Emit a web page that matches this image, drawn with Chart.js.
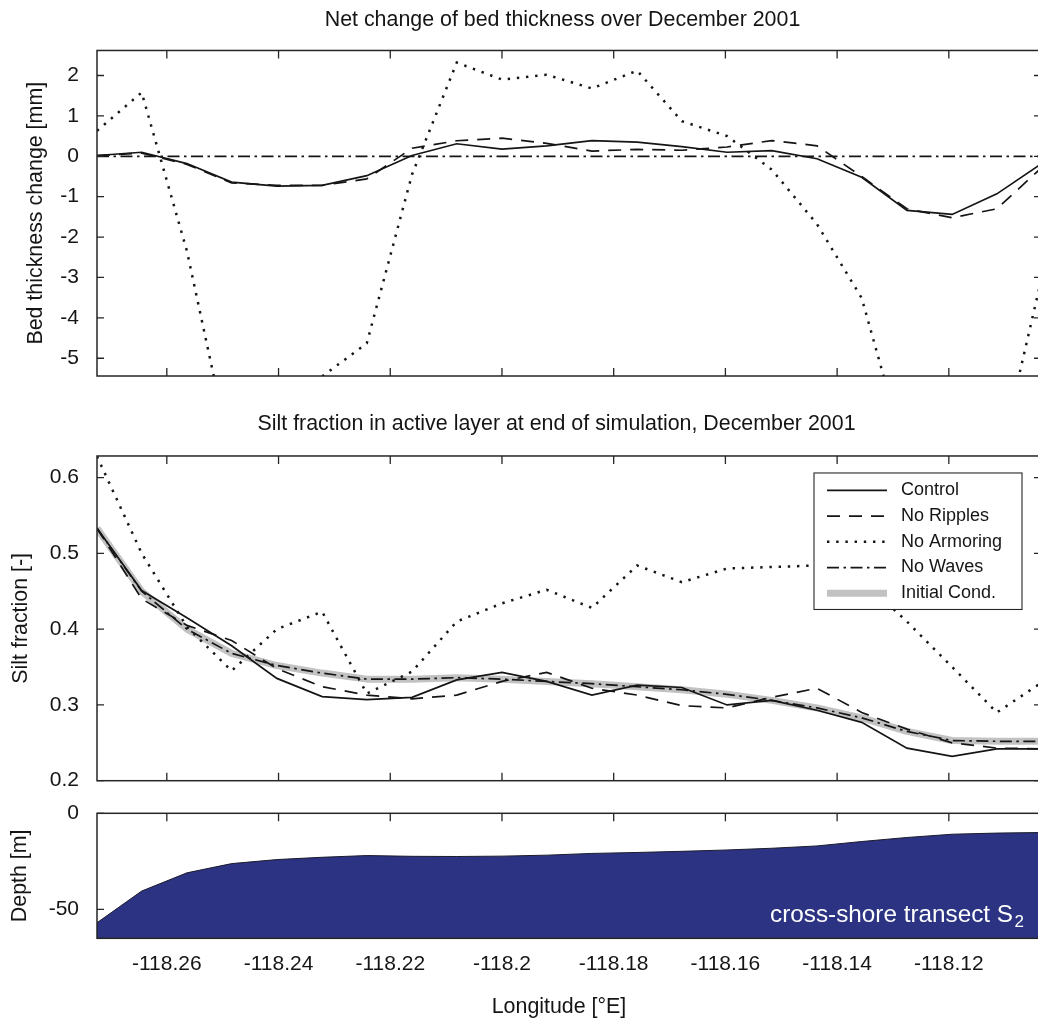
<!DOCTYPE html>
<html>
<head>
<meta charset="utf-8">
<script src="https://cdn.jsdelivr.net/npm/chart.js@4.4.1/dist/chart.umd.min.js"></script>
<style>
  html, body { margin: 0; padding: 0; background: #fff; }
  #figure { position: relative; width: 1038px; height: 1019px; overflow: hidden; background: #fff; }
  #figure canvas { position: absolute; left: 0; }
</style>
</head>
<body>
<div id="figure">
  <canvas id="bedChart" width="1041" height="400" style="top:0px"></canvas>
  <canvas id="siltChart" width="1041" height="400" style="top:400px"></canvas>
  <canvas id="depthChart" width="1041" height="240" style="top:790px"></canvas>
</div>
<script>
// ========== データ ==========
// 経度 (grid points along the transect)
const lon = [-118.2725, -118.2645, -118.2564, -118.2484, -118.2403, -118.2322, -118.2242, -118.2161,
  -118.2081, -118.2000, -118.1920, -118.1839, -118.1758, -118.1678, -118.1597, -118.1517,
  -118.1436, -118.1356, -118.1275, -118.1194, -118.1114, -118.1033];

// bed thickness change [mm]
const bedControl = [0.02, 0.10, -0.18, -0.64, -0.74, -0.72, -0.48, 0.02, 0.31, 0.18, 0.26,
  0.39, 0.35, 0.24, 0.10, 0.14, -0.06, -0.52, -1.34, -1.44, -0.93, -0.17];
const bedNoRipples = [0.02, 0.08, -0.20, -0.66, -0.72, -0.72, -0.56, 0.20, 0.385, 0.45, 0.32,
  0.13, 0.17, 0.15, 0.23, 0.39, 0.26, -0.50, -1.30, -1.52, -1.30, -0.27];
const bedNoArmoring = [0.63, 1.58, -2.35, -7.5, -7.8, -5.45, -4.63, -0.45, 2.32, 1.90, 2.02,
  1.68, 2.12, 0.87, 0.50, -0.33, -1.68, -3.51, -7.5, -9.0, -7.8, -2.96];
const bedNoWaves = [0, 0, 0, 0, 0, 0, 0, 0, 0, 0, 0, 0, 0, 0, 0, 0, 0, 0, 0, 0, 0, 0];

// silt fraction [-]
const siltControl = [0.533, 0.451, 0.415, 0.378, 0.335, 0.311, 0.307, 0.310, 0.333, 0.343, 0.331,
  0.313, 0.326, 0.323, 0.300, 0.306, 0.293, 0.277, 0.243, 0.232, 0.242, 0.242];
const siltNoRipples = [0.533, 0.440, 0.405, 0.385, 0.348, 0.324, 0.313, 0.308, 0.313, 0.331, 0.343,
  0.322, 0.313, 0.299, 0.296, 0.310, 0.322, 0.290, 0.268, 0.250, 0.243, 0.242];
const siltNoArmoring = [0.628, 0.500, 0.403, 0.345, 0.400, 0.423, 0.315, 0.344, 0.410, 0.434, 0.452,
  0.428, 0.484, 0.462, 0.480, 0.482, 0.484, 0.465, 0.410, 0.350, 0.290, 0.330];
const siltNoWaves = [0.533, 0.450, 0.400, 0.368, 0.352, 0.342, 0.334, 0.334, 0.336, 0.334, 0.331,
  0.328, 0.324, 0.320, 0.314, 0.306, 0.296, 0.283, 0.265, 0.253, 0.252, 0.252];
const siltInitial = [0.533, 0.450, 0.400, 0.368, 0.352, 0.342, 0.334, 0.334, 0.336, 0.334, 0.331,
  0.328, 0.324, 0.320, 0.314, 0.306, 0.296, 0.283, 0.265, 0.253, 0.252, 0.252];

// depth [m]
const depth = [-57, -40.5, -31, -26.2, -24.1, -22.9, -22.0, -22.4, -22.5, -22.3, -21.8,
  -20.9, -20.4, -19.8, -19.1, -18.2, -17.0, -14.7, -12.6, -10.9, -10.3, -10.0];

// 軸範囲・目盛
const LON_MIN = -118.2725, LON_MAX = -118.1035, LON_STEP = 0.02;
const BED_MIN = -5.44, BED_MAX = 2.62, BED_STEP = 1;
const SILT_MIN = 0.2, SILT_MAX = 0.6285, SILT_STEP = 0.1;
const DEPTH_MIN = -65.1, DEPTH_MAX = 0, DEPTH_STEP = 50;

// ========== 共通設定 ==========
const FONT = '"Liberation Sans", Arial, Helvetica, sans-serif';
const INK = '#151515';
const TITLE_SIZE = 21.4;
const TICK_SIZE = 21;
Chart.defaults.font.family = FONT;
Chart.defaults.color = INK;

const DASH = [13, 9];
const DOT = [2.4, 6.8];
const DASHDOT = [12, 4.5, 2.5, 4.5];

function pairs(xs, ys) {
  return xs.map((x, i) => ({ x: x, y: ys[i] }));
}

function lineSet(label, xs, ys, style, order) {
  return Object.assign({
    label: label,
    data: pairs(xs, ys),
    borderColor: INK,
    borderWidth: 1.7,
    pointRadius: 0,
    tension: 0,
    fill: false,
    order: order
  }, style);
}

// 枠と内向きの目盛線 (MATLAB 風)
const frameTicks = {
  id: 'frameTicks',
  afterDatasetsDraw(chart, args, opts) {
    const { ctx, chartArea: a, scales } = chart;
    ctx.save();
    ctx.strokeStyle = '#262626';
    ctx.lineWidth = 1.3;
    ctx.beginPath();
    scales.x.ticks.forEach(t => {
      const px = scales.x.getPixelForValue(t.value);
      if (opts.top !== false) { ctx.moveTo(px, a.top); ctx.lineTo(px, a.top + 8); }
      if (opts.bottom !== false) { ctx.moveTo(px, a.bottom); ctx.lineTo(px, a.bottom - 8); }
    });
    scales.y.ticks.forEach(t => {
      const py = scales.y.getPixelForValue(t.value);
      ctx.moveTo(a.left, py); ctx.lineTo(a.left + 7, py);
      if (opts.right !== false) { ctx.moveTo(a.right, py); ctx.lineTo(a.right - 7, py); }
    });
    ctx.stroke();
    ctx.lineWidth = 1.5;
    ctx.strokeRect(a.left, a.top, a.right - a.left, a.bottom - a.top);
    ctx.restore();
  }
};

// タイトルの横位置調整
const titleShift = {
  id: 'titleShift',
  afterLayout(chart, args, opts) {
    const t = chart.titleBlock;
    if (t && opts.dx) {
      t.left += opts.dx;
      t.right += opts.dx;
    }
  }
};

// 凡例 (プロット内、枠付き)
const boxLegend = {
  id: 'boxLegend',
  afterDraw(chart) {
    const { ctx, chartArea: a } = chart;
    const sets = chart.data.datasets;
    const w = 208, h = 136.5, rowH = 25.75;
    const x0 = a.right - 19 - w, y0 = a.top + 17;
    ctx.save();
    ctx.fillStyle = '#fff';
    ctx.fillRect(x0, y0, w, h);
    ctx.strokeStyle = '#262626';
    ctx.lineWidth = 1.1;
    ctx.strokeRect(x0, y0, w, h);
    ctx.font = '18px ' + FONT;
    ctx.textBaseline = 'middle';
    sets.forEach((ds, i) => {
      const y = y0 + 17.3 + i * rowH;
      ctx.strokeStyle = ds.borderColor;
      ctx.lineWidth = ds.borderWidth;
      ctx.setLineDash(ds.borderDash || []);
      ctx.beginPath();
      ctx.moveTo(x0 + 13, y);
      ctx.lineTo(x0 + 73, y);
      ctx.stroke();
      ctx.setLineDash([]);
      ctx.fillStyle = INK;
      ctx.fillText(ds.label, x0 + 87, y);
    });
    ctx.restore();
  }
};

// 断面ラベル
const transectLabel = {
  id: 'transectLabel',
  afterDatasetsDraw(chart) {
    const { ctx, chartArea: a } = chart;
    const right = a.right - 17;
    ctx.save();
    ctx.fillStyle = '#fff';
    ctx.font = '17px ' + FONT;
    const subW = ctx.measureText('2').width;
    ctx.textAlign = 'left';
    ctx.fillText('2', right - subW, a.bottom - 11.5);
    ctx.font = '24.3px ' + FONT;
    ctx.textAlign = 'right';
    ctx.fillText('cross-shore transect S', right - subW - 1.5, a.bottom - 16.6);
    ctx.restore();
  }
};

function xAxis(showLabels, height) {
  return {
    type: 'linear',
    min: LON_MIN,
    max: LON_MAX,
    grid: { display: false, drawTicks: false },
    border: { display: false },
    ticks: {
      display: showLabels,
      stepSize: LON_STEP,
      includeBounds: false,
      autoSkip: false,
      maxRotation: 0,
      padding: 12.8,
      font: { size: TICK_SIZE },
      color: INK,
      callback: v => String(Number(v.toFixed(2)))
    },
    afterFit: s => {
      s.height = height;
      s.paddingLeft = 0;
      s.paddingRight = 0;
    }
  };
}

function yAxis(min, max, step, titleText, titleOffset) {
  return {
    type: 'linear',
    min: min,
    max: max,
    grid: { display: false, drawTicks: false },
    border: { display: false },
    ticks: { stepSize: step, includeBounds: false, padding: 18, font: { size: TICK_SIZE }, color: INK },
    title: {
      display: true,
      text: titleText,
      font: { size: TITLE_SIZE },
      color: INK,
      padding: { top: titleOffset, bottom: 0 }
    },
    afterFit: s => {
      s.width = 97;
      s.paddingTop = 0;
      s.paddingBottom = 0;
    }
  };
}

function baseOptions(titleText, position, titlePad, layoutTop, dx) {
  return {
    responsive: false,
    animation: false,
    layout: { padding: { top: layoutTop, left: 0, right: 0, bottom: 0 } },
    plugins: {
      legend: { display: false },
      tooltip: { enabled: false },
      title: {
        display: true,
        text: titleText,
        position: position,
        fullSize: false,
        font: { size: TITLE_SIZE, weight: 'normal' },
        color: INK,
        padding: titlePad
      },
      titleShift: { dx: dx },
      frameTicks: {}
    }
  };
}

// ========== 上段: 層厚変化 ==========
const bedOptions = baseOptions('Net change of bed thickness over December 2001', 'top', { top: 7.4, bottom: 17.4 }, 0, -6.5);
bedOptions.scales = {
  x: xAxis(false, 24),
  y: yAxis(BED_MIN, BED_MAX, BED_STEP, 'Bed thickness change [mm]', 23)
};
new Chart(document.getElementById('bedChart'), {
  type: 'line',
  data: {
    datasets: [
      lineSet('Control', lon, bedControl, {}, 0),
      lineSet('No Ripples', lon, bedNoRipples, { borderDash: DASH }, 1),
      lineSet('No Armoring', lon, bedNoArmoring, { borderDash: DOT, borderWidth: 2.5 }, 2),
      lineSet('No Waves', lon, bedNoWaves, { borderDash: DASHDOT }, 3)
    ]
  },
  options: bedOptions,
  plugins: [titleShift, frameTicks]
});

// ========== 中段: シルト割合 ==========
const siltOptions = baseOptions('Silt fraction in active layer at end of simulation, December 2001', 'top', { top: 11.4, bottom: 18.9 }, 0, -12.5);
siltOptions.scales = {
  x: xAxis(false, 19.3),
  y: yAxis(SILT_MIN, SILT_MAX, SILT_STEP, 'Silt fraction [-]', 8)
};
new Chart(document.getElementById('siltChart'), {
  type: 'line',
  data: {
    datasets: [
      lineSet('Control', lon, siltControl, {}, 0),
      lineSet('No Ripples', lon, siltNoRipples, { borderDash: DASH }, 1),
      lineSet('No Armoring', lon, siltNoArmoring, { borderDash: DOT, borderWidth: 2.5 }, 2),
      lineSet('No Waves', lon, siltNoWaves, { borderDash: DASHDOT }, 3),
      lineSet('Initial Cond.', lon, siltInitial, { borderColor: '#c2c2c2', borderWidth: 7, borderJoinStyle: 'round' }, 10)
    ]
  },
  options: siltOptions,
  plugins: [titleShift, frameTicks, boxLegend]
});

// ========== 下段: 水深 ==========
const depthOptions = baseOptions('Longitude [°E]', 'bottom', { top: 7.9, bottom: 10.1 }, 23.3, -10);
depthOptions.scales = {
  x: xAxis(true, 48),
  y: yAxis(DEPTH_MIN, DEPTH_MAX, DEPTH_STEP, 'Depth [m]', 7.5)
};
depthOptions.plugins.frameTicks = { bottom: false, right: false };
new Chart(document.getElementById('depthChart'), {
  type: 'line',
  data: {
    datasets: [
      lineSet('Depth', lon, depth, { borderColor: '#1c1c2e', borderWidth: 1, fill: 'start', backgroundColor: '#2b3382' }, 0)
    ]
  },
  options: depthOptions,
  plugins: [titleShift, frameTicks, transectLabel]
});
</script>
</body>
</html>
